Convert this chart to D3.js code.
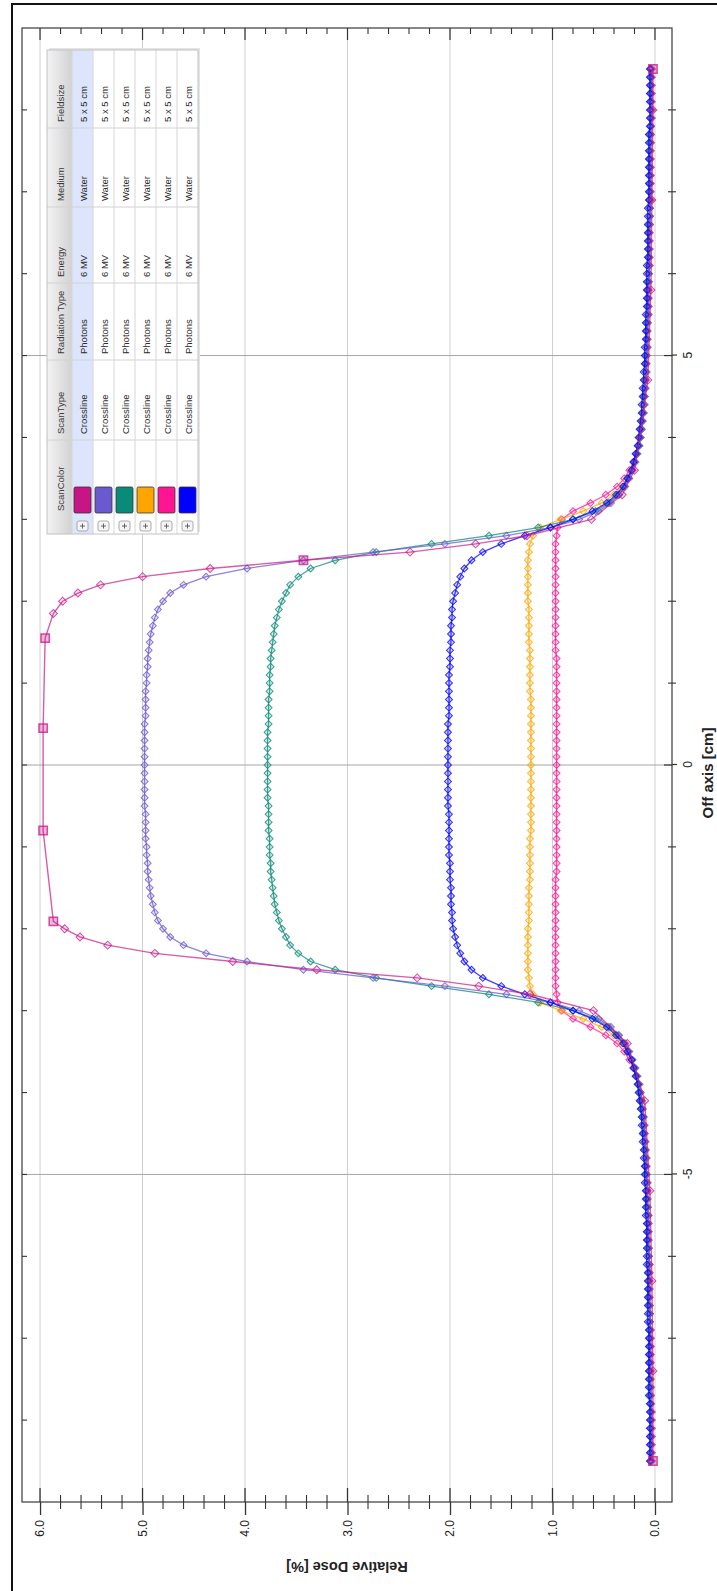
<!DOCTYPE html>
<html>
<head>
<meta charset="utf-8">
<script src="https://cdn.jsdelivr.net/npm/d3@7"></script>
<style>
  html, body { margin: 0; padding: 0; background: #fff; }
  svg { display: block; }
  text { font-family: "Liberation Sans", Arial, sans-serif; }
</style>
</head>
<body>
<svg id="chart" width="717" height="1591"></svg>
<script>
// ---------- measurement grid (off-axis position, cm) ----------
const offAxis = [
  -8.5,-8.4,-8.3,-8.2,-8.1,
  -8.0,-7.9,-7.8,-7.7,-7.6,-7.5,-7.4,-7.3,-7.2,-7.1,
  -7.0,-6.9,-6.8,-6.7,-6.6,-6.5,-6.4,-6.3,-6.2,-6.1,
  -6.0,-5.9,-5.8,-5.7,-5.6,-5.5,-5.4,-5.3,-5.2,-5.1,
  -5.0,-4.9,-4.8,-4.7,-4.6,-4.5,-4.4,-4.3,-4.2,-4.1,
  -4.0,-3.9,-3.8,-3.7,-3.6,-3.5,-3.4,-3.3,-3.2,-3.1,
  -3.0,-2.9,-2.8,-2.7,-2.6,-2.5,-2.4,-2.3,-2.2,-2.1,
  -2.0,-1.9,-1.8,-1.7,-1.6,-1.5,-1.4,-1.3,-1.2,-1.1,
  -1.0,-0.9,-0.8,-0.7,-0.6,-0.5,-0.4,-0.3,-0.2,-0.1,
  0,
  0.1,0.2,0.3,0.4,0.5,0.6,0.7,0.8,0.9,1.0,
  1.1,1.2,1.3,1.4,1.5,1.6,1.7,1.8,1.9,2.0,
  2.1,2.2,2.3,2.4,2.5,2.6,2.7,2.8,2.9,3.0,
  3.1,3.2,3.3,3.4,3.5,3.6,3.7,3.8,3.9,4.0,
  4.1,4.2,4.3,4.4,4.5,4.6,4.7,4.8,4.9,5.0,
  5.1,5.2,5.3,5.4,5.5,5.6,5.7,5.8,5.9,6.0,
  6.1,6.2,6.3,6.4,6.5,6.6,6.7,6.8,6.9,7.0,
  7.1,7.2,7.3,7.4,7.5,7.6,7.7,7.8,7.9,8.0,
  8.1,8.2,8.3,8.4,8.5
];

// ---------- relative dose of the densely sampled scans ----------
const dosePurple = [
  0.04,0.04,0.04,0.04,0.04,
  0.04,0.04,0.04,0.04,0.04,0.05,0.05,0.05,0.05,0.05,
  0.05,0.05,0.05,0.05,0.05,0.06,0.06,0.06,0.06,0.06,
  0.06,0.06,0.07,0.07,0.07,0.07,0.07,0.08,0.08,0.08,
  0.08,0.09,0.09,0.09,0.10,0.10,0.11,0.11,0.12,0.13,
  0.14,0.15,0.17,0.19,0.22,0.25,0.29,0.35,0.43,0.55,
  0.74,1.02,1.45,2.05,2.75,3.43,3.98,4.38,4.60,4.73,
  4.80,4.85,4.88,4.90,4.92,4.93,4.94,4.95,4.95,4.96,
  4.96,4.97,4.97,4.97,4.97,4.98,4.98,4.98,4.98,4.98,
  4.98,
  4.98,4.98,4.98,4.98,4.98,4.97,4.97,4.97,4.97,4.96,
  4.96,4.95,4.95,4.94,4.93,4.92,4.90,4.88,4.85,4.80,
  4.73,4.60,4.38,3.98,3.43,2.75,2.05,1.45,1.02,0.74,
  0.55,0.43,0.35,0.29,0.25,0.22,0.19,0.17,0.15,0.14,
  0.13,0.12,0.11,0.11,0.10,0.10,0.09,0.09,0.09,0.08,
  0.08,0.08,0.08,0.07,0.07,0.07,0.07,0.07,0.06,0.06,
  0.06,0.06,0.06,0.06,0.06,0.05,0.05,0.05,0.05,0.05,
  0.05,0.05,0.05,0.05,0.05,0.04,0.04,0.04,0.04,0.04,
  0.04,0.04,0.04,0.04,0.04
];
const doseTeal = [
  0.04,0.04,0.04,0.04,0.04,
  0.04,0.04,0.04,0.05,0.05,0.05,0.05,0.05,0.05,0.05,
  0.05,0.05,0.05,0.05,0.06,0.06,0.06,0.06,0.06,0.06,
  0.06,0.07,0.07,0.07,0.07,0.07,0.08,0.08,0.08,0.08,
  0.09,0.09,0.09,0.10,0.10,0.11,0.11,0.12,0.13,0.14,
  0.15,0.16,0.18,0.20,0.22,0.26,0.30,0.36,0.45,0.58,
  0.80,1.14,1.62,2.18,2.72,3.12,3.36,3.48,3.56,3.60,
  3.64,3.67,3.69,3.71,3.72,3.73,3.74,3.75,3.75,3.76,
  3.76,3.76,3.77,3.77,3.77,3.77,3.78,3.78,3.78,3.78,
  3.78,
  3.78,3.78,3.78,3.78,3.77,3.77,3.77,3.77,3.76,3.76,
  3.76,3.75,3.75,3.74,3.73,3.72,3.71,3.69,3.67,3.64,
  3.60,3.56,3.48,3.36,3.12,2.72,2.18,1.62,1.14,0.80,
  0.58,0.45,0.36,0.30,0.26,0.22,0.20,0.18,0.16,0.15,
  0.14,0.13,0.12,0.11,0.11,0.10,0.10,0.09,0.09,0.09,
  0.08,0.08,0.08,0.08,0.07,0.07,0.07,0.07,0.07,0.06,
  0.06,0.06,0.06,0.06,0.06,0.06,0.05,0.05,0.05,0.05,
  0.05,0.05,0.05,0.05,0.05,0.05,0.05,0.04,0.04,0.04,
  0.04,0.04,0.04,0.04,0.04
];
const doseOrange = [
  0.04,0.04,0.04,0.04,0.04,
  0.04,0.04,0.04,0.04,0.04,0.04,0.05,0.05,0.05,0.05,
  0.05,0.05,0.05,0.05,0.05,0.06,0.06,0.06,0.06,0.06,
  0.06,0.06,0.07,0.07,0.07,0.07,0.07,0.08,0.08,0.08,
  0.08,0.09,0.09,0.10,0.10,0.11,0.11,0.12,0.13,0.14,
  0.15,0.16,0.18,0.20,0.23,0.27,0.32,0.40,0.52,0.70,
  0.92,1.12,1.19,1.22,1.23,1.24,1.24,1.24,1.24,1.24,
  1.24,1.23,1.23,1.23,1.23,1.23,1.22,1.22,1.22,1.22,
  1.22,1.22,1.21,1.21,1.21,1.21,1.21,1.21,1.21,1.21,
  1.21,
  1.21,1.21,1.21,1.21,1.21,1.21,1.21,1.21,1.22,1.22,
  1.22,1.22,1.22,1.22,1.23,1.23,1.23,1.23,1.23,1.24,
  1.24,1.24,1.24,1.24,1.24,1.23,1.22,1.19,1.12,0.92,
  0.70,0.52,0.40,0.32,0.27,0.23,0.20,0.18,0.16,0.15,
  0.14,0.13,0.12,0.11,0.11,0.10,0.10,0.09,0.09,0.08,
  0.08,0.08,0.08,0.07,0.07,0.07,0.07,0.07,0.06,0.06,
  0.06,0.06,0.06,0.06,0.06,0.05,0.05,0.05,0.05,0.05,
  0.05,0.05,0.05,0.05,0.04,0.04,0.04,0.04,0.04,0.04,
  0.04,0.04,0.04,0.04,0.04
];
const dosePink = [
  0.03,0.03,0.03,0.03,0.03,
  0.03,0.03,0.04,0.04,0.04,0.04,0.04,0.04,0.04,0.04,
  0.04,0.04,0.05,0.05,0.05,0.05,0.05,0.05,0.05,0.05,
  0.06,0.06,0.06,0.06,0.06,0.06,0.07,0.07,0.07,0.07,
  0.08,0.08,0.08,0.09,0.09,0.10,0.10,0.11,0.12,0.13,
  0.14,0.16,0.18,0.21,0.25,0.30,0.37,0.48,0.63,0.80,
  0.91,0.95,0.96,0.97,0.97,0.97,0.97,0.97,0.97,0.97,
  0.97,0.97,0.97,0.97,0.97,0.97,0.97,0.96,0.96,0.96,
  0.96,0.96,0.96,0.96,0.96,0.96,0.96,0.96,0.96,0.96,
  0.96,
  0.96,0.96,0.96,0.96,0.96,0.96,0.96,0.96,0.96,0.96,
  0.96,0.96,0.96,0.97,0.97,0.97,0.97,0.97,0.97,0.97,
  0.97,0.97,0.97,0.97,0.97,0.97,0.97,0.96,0.95,0.91,
  0.80,0.63,0.48,0.37,0.30,0.25,0.21,0.18,0.16,0.14,
  0.13,0.12,0.11,0.10,0.10,0.09,0.09,0.08,0.08,0.08,
  0.07,0.07,0.07,0.07,0.06,0.06,0.06,0.06,0.06,0.06,
  0.05,0.05,0.05,0.05,0.05,0.05,0.05,0.05,0.04,0.04,
  0.04,0.04,0.04,0.04,0.04,0.04,0.04,0.04,0.03,0.03,
  0.03,0.03,0.03,0.03,0.03
];
const doseBlue = [
  0.05,0.05,0.05,0.05,0.05,
  0.05,0.05,0.05,0.06,0.06,0.06,0.06,0.06,0.06,0.06,
  0.06,0.06,0.07,0.07,0.07,0.07,0.07,0.07,0.07,0.08,
  0.08,0.08,0.08,0.08,0.08,0.09,0.09,0.09,0.09,0.10,
  0.10,0.10,0.11,0.11,0.12,0.12,0.13,0.13,0.14,0.15,
  0.16,0.17,0.19,0.21,0.23,0.27,0.31,0.38,0.47,0.61,
  0.80,1.02,1.27,1.50,1.68,1.79,1.86,1.90,1.93,1.95,
  1.97,1.98,1.98,1.99,1.99,1.99,2.00,2.00,2.00,2.01,
  2.01,2.01,2.01,2.01,2.01,2.02,2.02,2.02,2.02,2.02,
  2.02,
  2.02,2.02,2.02,2.02,2.02,2.01,2.01,2.01,2.01,2.01,
  2.01,2.00,2.00,2.00,1.99,1.99,1.99,1.98,1.98,1.97,
  1.95,1.93,1.90,1.86,1.79,1.68,1.50,1.27,1.02,0.80,
  0.61,0.47,0.38,0.31,0.27,0.23,0.21,0.19,0.17,0.16,
  0.15,0.14,0.13,0.13,0.12,0.12,0.11,0.11,0.10,0.10,
  0.10,0.09,0.09,0.09,0.09,0.08,0.08,0.08,0.08,0.08,
  0.08,0.07,0.07,0.07,0.07,0.07,0.07,0.07,0.06,0.06,
  0.06,0.06,0.06,0.06,0.06,0.06,0.06,0.05,0.05,0.05,
  0.05,0.05,0.05,0.05,0.05
];

// ---------- the coarsely sampled scan ----------
const magentaOffAxis = [-8.5,-7.4,-6.3,-5.2,-4.1,-3.4,-3.0,-2.8,-2.7,-2.6,-2.5,-2.4,-2.3,-2.2,-2.1,-2.0,-1.91,-0.8,0.45,1.55,1.85,2.0,2.1,2.2,2.3,2.4,2.5,2.6,2.7,2.8,3.0,3.3,3.6,4.7,5.8,6.9,8.0,8.5];
const magentaDose    = [0.02,0.02,0.03,0.05,0.10,0.27,0.60,1.22,1.72,2.32,3.30,4.12,4.88,5.34,5.61,5.76,5.87,5.97,5.97,5.95,5.87,5.78,5.63,5.41,5.00,4.34,3.43,2.39,1.75,1.25,0.62,0.32,0.20,0.07,0.04,0.03,0.02,0.02];
const magentaMarked  = [-8.5,-1.91,-0.8,0.45,1.55,2.5,8.5];

// ---------- axes ----------
const offAxisDomain = [-9, 9];
const doseDomain = [-0.166, 6.176];
const doseMajorTicks = [0, 1, 2, 3, 4, 5, 6];
const doseTickLabels = ["0.0", "1.0", "2.0", "3.0", "4.0", "5.0", "6.0"];
const doseMinorTicks = [0.2,0.4,0.6,0.8,1.2,1.4,1.6,1.8,2.2,2.4,2.6,2.8,3.2,3.4,3.6,3.8,4.2,4.4,4.6,4.8,5.2,5.4,5.6,5.8];
const offAxisLabelTicks = [-5, 0, 5];
const offAxisMinorTicks = [-8,-7,-6,-4,-3,-2,-1,1,2,3,4,6,7,8];

// ---------- scan list ----------
const legendHeaders = ["ScanColor", "ScanType", "Radiation Type", "Energy", "Medium", "Fieldsize"];
const scanColors = ["#c71585", "#6a5acd", "#0a8a78", "#ffa500", "#ff1493", "#0000ff"];
const scanTypes = ["Crossline", "Crossline", "Crossline", "Crossline", "Crossline", "Crossline"];
const radiationTypes = ["Photons", "Photons", "Photons", "Photons", "Photons", "Photons"];
const energies = ["6 MV", "6 MV", "6 MV", "6 MV", "6 MV", "6 MV"];
const media = ["Water", "Water", "Water", "Water", "Water", "Water"];
const fieldSizes = ["5 x 5 cm", "5 x 5 cm", "5 x 5 cm", "5 x 5 cm", "5 x 5 cm", "5 x 5 cm"];

// ================= drawing =================
const svg = d3.select("#chart");
svg.append("rect").attr("width", 717).attr("height", 1591).attr("fill", "#fff");

// The chart is laid out landscape and turned a quarter turn counter-clockwise.
const g = svg.append("g").attr("transform", "translate(0,1591) rotate(-90)");

const plot = { left: 89, right: 1563, top: 22, bottom: 672 };
const x = d3.scaleLinear().domain(offAxisDomain).range([plot.left, plot.right]);
const y = d3.scaleLinear().domain(doseDomain).range([plot.bottom, plot.top]);

const defs = svg.append("defs");
defs.append("clipPath").attr("id", "plotClip")
  .append("rect").attr("x", plot.left).attr("y", plot.top)
  .attr("width", plot.right - plot.left).attr("height", plot.bottom - plot.top);
const hdrGrad = defs.append("linearGradient").attr("id", "hdrGrad")
  .attr("x1", 0).attr("y1", 0).attr("x2", 0).attr("y2", 1);
hdrGrad.append("stop").attr("offset", "0%").attr("stop-color", "#f3f3f3");
hdrGrad.append("stop").attr("offset", "100%").attr("stop-color", "#d2d2d2");

// grid
g.append("g").selectAll("line").data(doseMajorTicks).join("line")
  .attr("x1", plot.left).attr("x2", plot.right)
  .attr("y1", d => y(d)).attr("y2", d => y(d))
  .attr("stroke", "#d0d0d0").attr("stroke-width", 1);
g.append("g").selectAll("line").data(offAxisLabelTicks).join("line")
  .attr("x1", d => x(d)).attr("x2", d => x(d))
  .attr("y1", plot.top).attr("y2", plot.bottom)
  .attr("stroke", "#a6a6a6").attr("stroke-width", 1);

// curves
const curveLayer = g.append("g").attr("clip-path", "url(#plotClip)");
const line = d3.line().x(d => x(d[0])).y(d => y(d[1]));
const diamond = d3.symbol().type(d3.symbolSquare).size(24)();

const denseScans = [
  { color: scanColors[4], dose: dosePink },
  { color: scanColors[3], dose: doseOrange },
  { color: scanColors[2], dose: doseTeal },
  { color: scanColors[1], dose: dosePurple },
  { color: scanColors[5], dose: doseBlue }
];

denseScans.forEach(s => {
  const pts = d3.zip(offAxis, s.dose);
  const sg = curveLayer.append("g");
  sg.append("path").datum(pts).attr("d", line)
    .attr("fill", "none").attr("stroke", s.color)
    .attr("stroke-opacity", 0.75).attr("stroke-width", 1.3);
  sg.selectAll("path.mk").data(pts).join("path").attr("class", "mk")
    .attr("d", diamond)
    .attr("transform", d => `translate(${x(d[0])},${y(d[1])}) rotate(45)`)
    .attr("fill", s.color).attr("fill-opacity", 0.14)
    .attr("stroke", s.color).attr("stroke-opacity", 0.8).attr("stroke-width", 1);
});

// coarse scan with its marked points
{
  const pts = d3.zip(magentaOffAxis, magentaDose);
  const col = scanColors[0];
  const sg = curveLayer.append("g");
  sg.append("path").datum(pts).attr("d", line)
    .attr("fill", "none").attr("stroke", col)
    .attr("stroke-opacity", 0.7).attr("stroke-width", 1.4);
  const bigDiamond = d3.symbol().type(d3.symbolSquare).size(32)();
  const square = d3.symbol().type(d3.symbolSquare).size(70)();
  sg.selectAll("path.mk").data(pts).join("path").attr("class", "mk")
    .attr("d", d => magentaMarked.includes(d[0]) ? square : bigDiamond)
    .attr("transform", d => magentaMarked.includes(d[0])
      ? `translate(${x(d[0])},${y(d[1])})`
      : `translate(${x(d[0])},${y(d[1])}) rotate(45)`)
    .attr("fill", col).attr("fill-opacity", d => magentaMarked.includes(d[0]) ? 0.3 : 0.12)
    .attr("stroke", col).attr("stroke-opacity", 0.75)
    .attr("stroke-width", d => magentaMarked.includes(d[0]) ? 1.5 : 1);
}

// plot frame
g.append("rect").attr("x", plot.left).attr("y", plot.top)
  .attr("width", plot.right - plot.left).attr("height", plot.bottom - plot.top)
  .attr("fill", "none").attr("stroke", "#3a3a3a").attr("stroke-width", 1.2);

// dose axis
const yAxis = d3.axisLeft(y).tickValues(doseMajorTicks)
  .tickFormat((d, i) => doseTickLabels[i]).tickSize(13).tickPadding(5);
const gy = g.append("g").attr("transform", `translate(${plot.left},0)`).call(yAxis);
gy.select(".domain").remove();
gy.selectAll(".tick line").attr("stroke", "#333").attr("stroke-width", 1.3);
gy.selectAll(".tick text").attr("font-size", 12).attr("fill", "#222")
  .attr("font-family", "Liberation Sans, Arial, sans-serif");

const tickLayer = g.append("g").attr("stroke", "#333");
tickLayer.selectAll("line.ymi").data(doseMajorTicks).join("line").attr("class", "ymi")
  .attr("x1", plot.left).attr("x2", plot.left + 14)
  .attr("y1", d => y(d)).attr("y2", d => y(d)).attr("stroke-width", 1.3);
tickLayer.selectAll("line.ymn").data(doseMinorTicks).join("line").attr("class", "ymn")
  .attr("x1", plot.left - 7).attr("x2", plot.left + 7)
  .attr("y1", d => y(d)).attr("y2", d => y(d)).attr("stroke-width", 1.1);
tickLayer.selectAll("line.yrm").data(doseMajorTicks).join("line").attr("class", "yrm")
  .attr("x1", plot.right - 12).attr("x2", plot.right)
  .attr("y1", d => y(d)).attr("y2", d => y(d)).attr("stroke-width", 1.2);
tickLayer.selectAll("line.yrn").data(doseMinorTicks).join("line").attr("class", "yrn")
  .attr("x1", plot.right - 6).attr("x2", plot.right)
  .attr("y1", d => y(d)).attr("y2", d => y(d)).attr("stroke-width", 1.1);

// off-axis axis
const xAxis = d3.axisBottom(x).tickValues(offAxisLabelTicks)
  .tickFormat(d => String(d)).tickSize(5).tickPadding(6);
const gx = g.append("g").attr("transform", `translate(0,${plot.bottom})`).call(xAxis);
gx.select(".domain").remove();
gx.selectAll(".tick line").attr("stroke", "#333").attr("stroke-width", 1.2);
gx.selectAll(".tick text").attr("font-size", 12).attr("fill", "#222")
  .attr("font-family", "Liberation Sans, Arial, sans-serif");

tickLayer.selectAll("line.xmj").data(offAxisLabelTicks).join("line").attr("class", "xmj")
  .attr("x1", d => x(d)).attr("x2", d => x(d))
  .attr("y1", plot.bottom - 8).attr("y2", plot.bottom).attr("stroke-width", 1.2);
tickLayer.selectAll("line.xmn").data(offAxisMinorTicks).join("line").attr("class", "xmn")
  .attr("x1", d => x(d)).attr("x2", d => x(d))
  .attr("y1", plot.bottom - 4).attr("y2", plot.bottom + 4).attr("stroke-width", 1.1);
tickLayer.selectAll("line.xtp").data(offAxisMinorTicks.concat(offAxisLabelTicks)).join("line").attr("class", "xtp")
  .attr("x1", d => x(d)).attr("x2", d => x(d))
  .attr("y1", plot.top).attr("y2", plot.top + 5).attr("stroke-width", 1.1);

// axis titles
g.append("text")
  .attr("transform", `translate(24,${(plot.top + plot.bottom) / 2}) rotate(-90)`)
  .attr("text-anchor", "middle").attr("dominant-baseline", "central")
  .attr("font-size", 14.5).attr("font-weight", "bold").attr("fill", "#222")
  .text("Relative Dose [%]");
g.append("text")
  .attr("x", x(0) - 8).attr("y", 707)
  .attr("text-anchor", "middle").attr("dominant-baseline", "central")
  .attr("font-size", 15).attr("font-weight", "bold").attr("fill", "#222")
  .text("Off axis [cm]");

// scan list table
const tbl = g.append("g");
const colX = [1057, 1151, 1231, 1308, 1384, 1463, 1541];
const tTop = 47, headH = 25, rowH = 21, nRows = scanColors.length;
const tBottom = tTop + headH + rowH * nRows;
tbl.append("rect").attr("x", colX[0] + 2).attr("y", tTop + 2)
  .attr("width", colX[6] - colX[0]).attr("height", tBottom - tTop)
  .attr("fill", "#e4e4e4");
tbl.append("rect").attr("x", colX[0]).attr("y", tTop)
  .attr("width", colX[6] - colX[0]).attr("height", tBottom - tTop)
  .attr("fill", "#fff");
tbl.append("rect").attr("x", colX[0]).attr("y", tTop)
  .attr("width", colX[6] - colX[0]).attr("height", headH)
  .attr("fill", "url(#hdrGrad)");
tbl.append("rect").attr("x", colX[0]).attr("y", tTop + headH)
  .attr("width", colX[6] - colX[0]).attr("height", rowH)
  .attr("fill", "#dce5fb");
// cell borders
tbl.selectAll("line.cv").data(colX.slice(1, 6)).join("line").attr("class", "cv")
  .attr("x1", d => d).attr("x2", d => d).attr("y1", tTop).attr("y2", tBottom)
  .attr("stroke", "#d2d2d2");
tbl.selectAll("line.rh").data(d3.range(nRows)).join("line").attr("class", "rh")
  .attr("x1", colX[0]).attr("x2", colX[6])
  .attr("y1", i => tTop + headH + i * rowH).attr("y2", i => tTop + headH + i * rowH)
  .attr("stroke", "#d6d6d6");
tbl.append("rect").attr("x", colX[0]).attr("y", tTop)
  .attr("width", colX[6] - colX[0]).attr("height", tBottom - tTop)
  .attr("fill", "none").attr("stroke", "#c2c2c2");

// header labels
tbl.selectAll("text.hd").data(legendHeaders).join("text").attr("class", "hd")
  .attr("x", (d, i) => colX[i] + (i === 0 ? 23 : 6))
  .attr("y", tTop + headH / 2 + 0.5)
  .attr("dominant-baseline", "central")
  .attr("font-size", 9.5).attr("fill", "#3a3a3a")
  .text(d => d);

// row cells
const cellColumns = [scanTypes, radiationTypes, energies, media, fieldSizes];
scanColors.forEach((c, r) => {
  const rowTop = tTop + headH + r * rowH;
  const row = tbl.append("g");
  // expand button
  row.append("rect").attr("x", colX[0] + 3).attr("y", rowTop + 5)
    .attr("width", 10).attr("height", 11).attr("rx", 2)
    .attr("fill", "#f4f4f4").attr("stroke", "#9a9a9a").attr("stroke-width", 0.8);
  row.append("line").attr("x1", colX[0] + 5.5).attr("x2", colX[0] + 10.5)
    .attr("y1", rowTop + 10.5).attr("y2", rowTop + 10.5).attr("stroke", "#555").attr("stroke-width", 0.9);
  row.append("line").attr("x1", colX[0] + 8).attr("x2", colX[0] + 8)
    .attr("y1", rowTop + 8).attr("y2", rowTop + 13).attr("stroke", "#555").attr("stroke-width", 0.9);
  // colour swatch
  row.append("rect").attr("x", colX[0] + 21).attr("y", rowTop + 2)
    .attr("width", 26).attr("height", rowH - 4).attr("rx", 1.5)
    .attr("fill", c).attr("stroke", "#333").attr("stroke-width", 0.8);
  cellColumns.forEach((vals, k) => {
    row.append("text")
      .attr("x", colX[k + 1] + 6).attr("y", rowTop + rowH / 2 + 0.5)
      .attr("dominant-baseline", "central")
      .attr("font-size", 9.5).attr("fill", "#2a2a2a")
      .text(vals[r]);
  });
});

// page border
svg.append("path").attr("d", "M12,1591 V4 H717")
  .attr("fill", "none").attr("stroke", "#111").attr("stroke-width", 2);
</script>
</body>
</html>
